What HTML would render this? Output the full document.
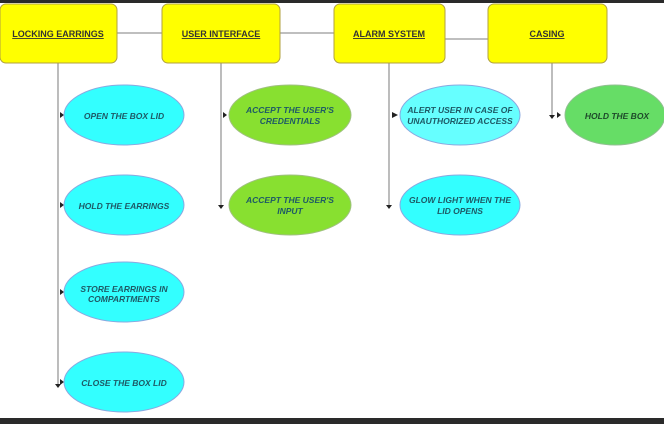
<!DOCTYPE html><html><head><style>body{margin:0;background:#fff}</style></head><body>
<svg width="664" height="424" xmlns="http://www.w3.org/2000/svg" font-family="Liberation Sans, sans-serif">
<rect x="0" y="0" width="664" height="3" fill="#2a2a2a"/>
<rect x="0" y="418" width="664" height="6" fill="#2a2a2a"/>
<g stroke="#999" stroke-width="1.3" fill="none">
<line x1="117" y1="33" x2="162" y2="33"/><line x1="280" y1="33" x2="334" y2="33"/><line x1="445" y1="39" x2="488" y2="39"/>
<line x1="58" y1="63" x2="58" y2="385"/><line x1="221" y1="63" x2="221" y2="208"/>
<line x1="389" y1="63" x2="389" y2="208"/><line x1="552" y1="63" x2="552" y2="117"/>
</g>
<g fill="#222">
<path d="M60 112l4 3-4 3z"/><path d="M60 202l4 3-4 3z"/><path d="M60 289l4 3-4 3z"/><path d="M60 379l4 3-4 3z"/><path d="M55 384l3 4 3-4z"/>
<path d="M223 112l4 3-4 3z"/><path d="M218 205l3 4 3-4z"/>
<path d="M392 112l6 3-6 3z"/><path d="M386 205l3 4 3-4z"/>
<path d="M557 112l4 3-4 3z"/><path d="M549 115l3 4 3-4z"/>
</g>
<g fill="#ffff00" stroke="#b0a040" stroke-width="1">
<rect x="0" y="4" width="117" height="59" rx="6"/><rect x="162" y="4" width="118" height="59" rx="6"/>
<rect x="334" y="4" width="111" height="59" rx="6"/><rect x="488" y="4" width="119" height="59" rx="6"/>
</g>
<g font-size="9" font-weight="bold" fill="#333" text-anchor="middle" text-decoration="underline">
<text x="58" y="37">LOCKING EARRINGS</text><text x="221" y="37">USER INTERFACE</text>
<text x="389" y="37">ALARM SYSTEM</text><text x="547" y="37">CASING</text>
</g>
<g stroke="#8aa8e0" stroke-width="1">
<ellipse cx="124" cy="115" rx="60" ry="30" fill="#33ffff"/>
<ellipse cx="124" cy="205" rx="60" ry="30" fill="#33ffff"/>
<ellipse cx="124" cy="292" rx="60" ry="30" fill="#33ffff"/>
<ellipse cx="124" cy="382" rx="60" ry="30" fill="#33ffff"/>
<ellipse cx="290" cy="115" rx="61" ry="30" fill="#88e030" stroke="#a0c080"/>
<ellipse cx="290" cy="205" rx="61" ry="30" fill="#88e030" stroke="#a0c080"/>
<ellipse cx="460" cy="115" rx="60" ry="30" fill="#66ffff"/>
<ellipse cx="460" cy="205" rx="60" ry="30" fill="#33ffff"/>
<ellipse cx="615" cy="115" rx="50" ry="30" fill="#66dd66" stroke="#90c090"/>
</g>
<g font-size="8.5" font-weight="bold" font-style="italic" fill="#1e5a66" text-anchor="middle">
<text x="124" y="119">OPEN THE BOX LID</text>
<text x="124" y="209">HOLD THE EARRINGS</text>
<text x="124" y="292">STORE EARRINGS IN</text><text x="124" y="302">COMPARTMENTS</text>
<text x="124" y="386">CLOSE THE BOX LID</text>
<text x="290" y="113">ACCEPT THE USER'S</text><text x="290" y="124">CREDENTIALS</text>
<text x="290" y="203">ACCEPT THE USER'S</text><text x="290" y="214">INPUT</text>
<text x="460" y="113">ALERT  USER IN CASE OF</text><text x="460" y="124">UNAUTHORIZED ACCESS</text>
<text x="460" y="203">GLOW LIGHT WHEN THE</text><text x="460" y="214">LID OPENS</text>
<text x="617" y="119" fill="#1e4a2a">HOLD THE BOX</text>
</g>
</svg></body></html>
